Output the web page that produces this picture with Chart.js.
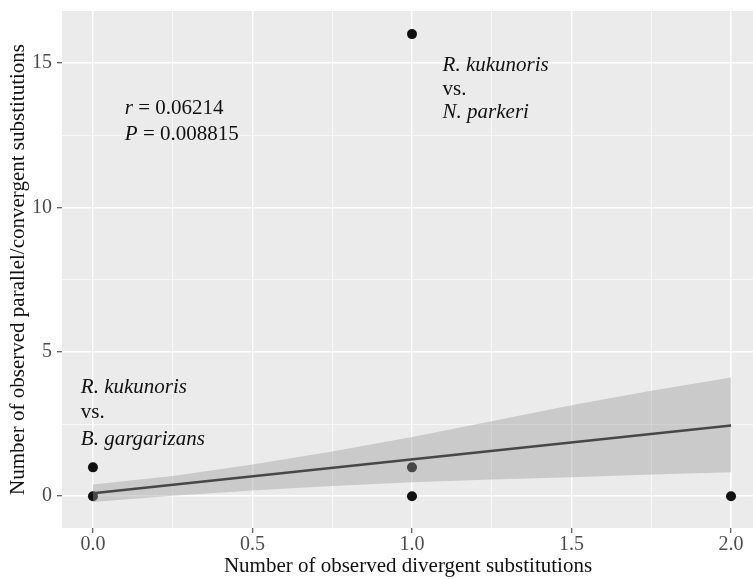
<!DOCTYPE html>
<html>
<head>
<meta charset="utf-8">
<script src="https://cdn.jsdelivr.net/npm/chart.js@4.4.1/dist/chart.umd.min.js"></script>
<style>
  html, body { margin: 0; padding: 0; background: #fff; overflow: hidden; }
</style>
</head>
<body>
<canvas id="chart" width="759" height="579"></canvas>
<script>
// observed points: divergent (x) vs parallel/convergent (y)
const divergent = [0, 0, 1, 1, 1, 2];
const convergent = [1, 0, 16, 1, 0, 0];

// linear fit and its confidence band
const fitX = [0, 2];
const fitY = [0.1, 2.45];
const bandX = [0, 0.25, 0.5, 0.75, 1, 1.25, 1.5, 1.75, 2];
const bandUpper = [0.41, 0.7, 1.1, 1.55, 2.05, 2.6, 3.15, 3.65, 4.11];
const bandLower = [-0.2, 0.02, 0.2, 0.35, 0.48, 0.58, 0.66, 0.75, 0.83];

// major + minor grid positions
const xTicks = [0, 0.25, 0.5, 0.75, 1, 1.25, 1.5, 1.75, 2];
const yTicks = [0, 2.5, 5, 7.5, 10, 12.5, 15];

const FONT = '"Liberation Serif", "Times New Roman", serif';

const pts = divergent.map((x, i) => ({ x: x, y: convergent[i] }));
const fit = fitX.map((x, i) => ({ x: x, y: fitY[i] }));
const upper = bandX.map((x, i) => ({ x: x, y: bandUpper[i] }));
const lower = bandX.map((x, i) => ({ x: x, y: bandLower[i] }));

// text notes, anchored in data units
const notes = [
  { x: 0.1, y: 13.41, parts: [['r', true], [' = 0.06214', false]] },
  { x: 0.1, y: 12.51, parts: [['P', true], [' = 0.008815', false]] },
  { x: 1.096, y: 14.93, parts: [['R. kukunoris', true]] },
  { x: 1.096, y: 14.07, parts: [['vs.', false]] },
  { x: 1.096, y: 13.27, parts: [['N. parkeri', true]] },
  { x: -0.038, y: 3.77, parts: [['R. kukunoris', true]] },
  { x: -0.038, y: 2.9, parts: [['vs.', false]] },
  { x: -0.038, y: 1.97, parts: [['B. gargarizans', true]] }
];

const panelBg = {
  id: 'panelBg',
  beforeDraw(chart) {
    const { ctx, chartArea: a } = chart;
    ctx.save();
    ctx.fillStyle = '#ebebeb';
    ctx.fillRect(a.left, a.top, a.right - a.left, a.bottom - a.top);
    ctx.restore();
  }
};

const noteText = {
  id: 'noteText',
  afterDraw(chart) {
    const { ctx, scales } = chart;
    ctx.save();
    ctx.fillStyle = '#111';
    ctx.textBaseline = 'middle';
    notes.forEach(n => {
      let px = scales.x.getPixelForValue(n.x);
      const py = scales.y.getPixelForValue(n.y);
      n.parts.forEach(([txt, it]) => {
        ctx.font = (it ? 'italic ' : '') + '21px ' + FONT;
        ctx.fillText(txt, px, py);
        px += ctx.measureText(txt).width;
      });
    });
    ctx.restore();
  }
};

const isMajor = (v, step) => Math.abs(v / step - Math.round(v / step)) < 1e-6;

new Chart(document.getElementById('chart').getContext('2d'), {
  type: 'scatter',
  data: {
    datasets: [
      {
        type: 'line', data: fit, borderColor: '#474747', borderWidth: 2.5,
        pointRadius: 0, fill: false, order: 0
      },
      {
        type: 'line', data: upper, borderWidth: 0, borderColor: 'rgba(0,0,0,0)',
        pointRadius: 0, fill: '+1', backgroundColor: 'rgba(153,153,153,0.4)', order: 1
      },
      {
        type: 'line', data: lower, borderWidth: 0, borderColor: 'rgba(0,0,0,0)',
        pointRadius: 0, fill: false, order: 1
      },
      {
        data: pts, pointRadius: 5, pointBackgroundColor: '#111',
        pointBorderWidth: 0, order: 2
      }
    ]
  },
  options: {
    responsive: false,
    animation: false,
    devicePixelRatio: 1,
    layout: { padding: { top: 11, right: 0, left: 0, bottom: 0 } },
    plugins: { legend: { display: false }, tooltip: { enabled: false } },
    scales: {
      x: {
        type: 'linear', min: -0.097, max: 2.072,
        afterBuildTicks: s => { s.ticks = xTicks.map(v => ({ value: v })); },
        afterFit: s => { s.height = 51; s.paddingLeft = 0; s.paddingRight = 0; },
        border: { display: false },
        grid: {
          color: '#fff',
          lineWidth: c => isMajor(c.tick.value, 0.5) ? 1.5 : 0.7,
          tickColor: c => isMajor(c.tick.value, 0.5) ? '#333' : 'rgba(0,0,0,0)',
          tickLength: 5, tickWidth: 1
        },
        ticks: {
          autoSkip: false, maxRotation: 0, padding: 0, color: '#4d4d4d',
          font: { family: FONT, size: 20 },
          callback: v => isMajor(v, 0.5) ? v.toFixed(1) : ''
        },
        title: {
          display: true, text: 'Number of observed divergent substitutions',
          color: '#111', font: { family: FONT, size: 21 }, padding: { top: 0, bottom: 0 }
        }
      },
      y: {
        type: 'linear', min: -1.1, max: 16.8,
        afterBuildTicks: s => { s.ticks = yTicks.map(v => ({ value: v })); },
        afterFit: s => { s.width = 62; s.paddingTop = 0; s.paddingBottom = 0; },
        border: { display: false },
        grid: {
          color: '#fff',
          lineWidth: c => isMajor(c.tick.value, 5) ? 1.5 : 0.7,
          tickColor: c => isMajor(c.tick.value, 5) ? '#333' : 'rgba(0,0,0,0)',
          tickLength: 5, tickWidth: 1
        },
        ticks: {
          autoSkip: false, padding: 5, color: '#4d4d4d',
          font: { family: FONT, size: 20 },
          callback: v => isMajor(v, 5) ? String(v) : ''
        },
        title: {
          display: true, text: 'Number of observed parallel/convergent substitutions',
          color: '#111', font: { family: FONT, size: 21 }, padding: { top: 6, bottom: 0 }
        }
      }
    }
  },
  plugins: [panelBg, noteText]
});
</script>
</body>
</html>
